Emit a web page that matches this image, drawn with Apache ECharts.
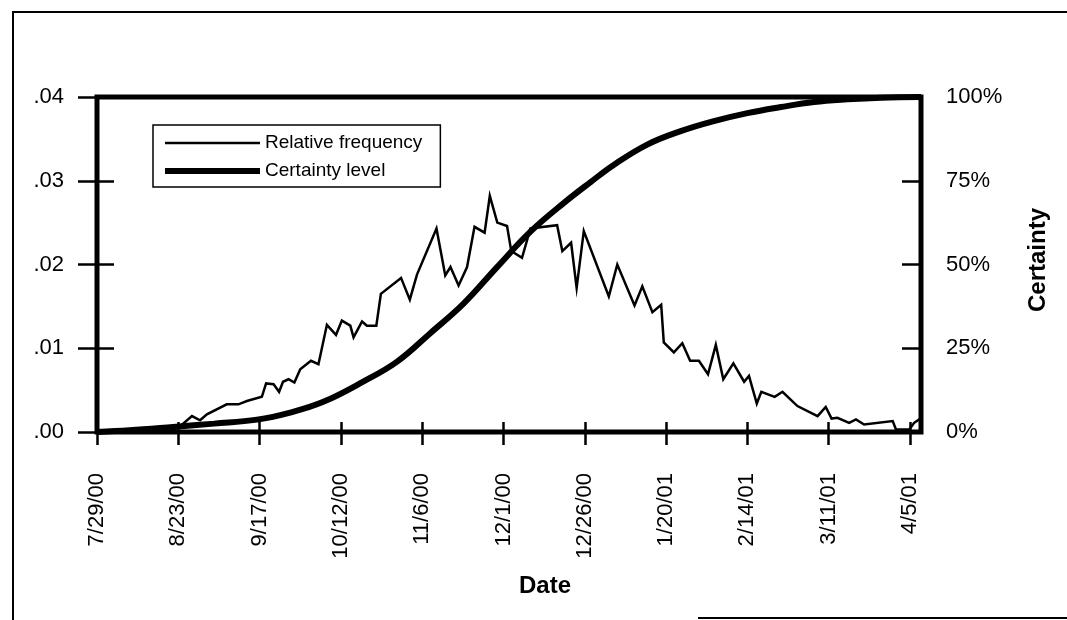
<!DOCTYPE html>
<html><head><meta charset="utf-8">
<script src="https://cdn.jsdelivr.net/npm/echarts@6/dist/echarts.min.js"></script>
<style>html,body{margin:0;padding:0;background:#fff}#c{width:1067px;height:620px}</style>
</head><body><div id="c"></div>
<script>
// x axis: days since 7/29/00
const xTickDays = [0, 25, 50, 75, 100, 125, 150, 175, 200, 225, 250];
const xTickLabels = ['7/29/00', '8/23/00', '9/17/00', '10/12/00', '11/6/00', '12/1/00', '12/26/00', '1/20/01', '2/14/01', '3/11/01', '4/5/01'];
const leftTickLabels = ['.00', '.01', '.02', '.03', '.04'];
const rightTickLabels = ['0%', '25%', '50%', '75%', '100%'];

const freqDays = [0, 22, 25.6, 29.2, 31.7, 33.8, 39.9, 43.5, 46.1, 50.7, 52.0, 54.3, 56.0, 57.2, 58.9, 60.7, 62.5, 65.8, 68.1, 70.7, 73.5, 75.3, 77.9, 78.9, 81.5, 83.0, 85.9, 87.3, 93.5, 96.2, 98.4, 104.4, 107.1, 108.7, 111.2, 113.8, 116.1, 119.2, 120.8, 123.1, 126.1, 127.4, 130.7, 133.3, 141.5, 143.1, 145.8, 147.5, 149.7, 157.4, 160.0, 165.3, 167.7, 170.8, 173.5, 174.3, 177.4, 180.0, 182.4, 185.1, 187.9, 190.3, 192.6, 195.7, 199.0, 200.5, 202.9, 204.3, 208.4, 210.8, 215.4, 221.6, 224.1, 225.9, 227.7, 231.3, 233.4, 235.9, 244.7, 245.7, 249.8, 251.3, 253.2];
const freqValues = [0, 0.0001, 0.0007, 0.0019, 0.0014, 0.0021, 0.0033, 0.0033, 0.0037, 0.0042, 0.0058, 0.0057, 0.0048, 0.0060, 0.0063, 0.0059, 0.0075, 0.0085, 0.0081, 0.0128, 0.0116, 0.0133, 0.0127, 0.0113, 0.0132, 0.0127, 0.0127, 0.0165, 0.0184, 0.0158, 0.0188, 0.0243, 0.0187, 0.0197, 0.0175, 0.0197, 0.0245, 0.0238, 0.0282, 0.0250, 0.0246, 0.0216, 0.0208, 0.0243, 0.0247, 0.0216, 0.0226, 0.0172, 0.0240, 0.0162, 0.0200, 0.0151, 0.0174, 0.0143, 0.0152, 0.0107, 0.0095, 0.0106, 0.0085, 0.0085, 0.0069, 0.0104, 0.0063, 0.0082, 0.0060, 0.0067, 0.0034, 0.0048, 0.0042, 0.0048, 0.0031, 0.0019, 0.0030, 0.0016, 0.0017, 0.0011, 0.0015, 0.0009, 0.0013, 0.0003, 0.0003, 0.0011, 0.0016];

const certDays = [0, 10, 23.4, 36, 49.2, 59.4, 69.6, 82.0, 92.3, 102.5, 112.8, 123.1, 133.3, 143.6, 151.8, 159.0, 169.2, 179.5, 189.7, 200.0, 210.3, 220.5, 230.8, 241.1, 253.4];
const certValues = [0, 0.5, 1.5, 2.5, 3.7, 5.8, 9.0, 15.1, 21.0, 29.5, 38.4, 49.3, 59.8, 68.4, 74.6, 79.8, 85.8, 89.8, 92.8, 95.2, 97.0, 98.5, 99.3, 99.8, 100];

const FONT = '"Liberation Sans", Arial, Helvetica, sans-serif';
const X_MAX = 253.4;

function labelFor(v) {
  const i = xTickDays.findIndex(d => Math.abs(d - v) < 1e-6);
  return i >= 0 ? xTickLabels[i] : '';
}

const chart = echarts.init(document.getElementById('c'), null, {renderer: 'canvas'});
const tickStyle = {color: '#000', width: 2.5};
chart.setOption({
  backgroundColor: '#fff',
  animation: false,
  grid: {left: 97, right: 146, top: 97, bottom: 188, show: true, borderColor: '#000', borderWidth: 5, backgroundColor: 'transparent'},
  legend: {
    orient: 'vertical', left: 153, top: 125,
    padding: [8, 18, 6, 9], itemGap: 8, itemWidth: 95, itemHeight: 20,
    borderColor: '#000', borderWidth: 1.5, backgroundColor: '#fff',
    textStyle: {fontFamily: FONT, fontSize: 19, color: '#000', lineHeight: 20},
    data: [
      {name: 'Relative frequency', itemStyle: {opacity: 0}, lineStyle: {width: 2.5, color: '#000'}},
      {name: 'Certainty level', itemStyle: {opacity: 0}, lineStyle: {width: 6, color: '#000'}}
    ]
  },
  xAxis: [
    {type: 'value', min: 0, max: X_MAX, position: 'bottom',
     axisLine: {show: false}, splitLine: {show: false},
     axisTick: {show: true, customValues: xTickDays, length: 13, lineStyle: tickStyle},
     axisLabel: {customValues: xTickDays, rotate: 90, margin: 41, color: '#000', fontFamily: FONT, fontSize: 22, formatter: labelFor}},
    {type: 'value', min: 0, max: X_MAX, position: 'bottom',
     axisLine: {show: false}, splitLine: {show: false},
     axisTick: {show: true, inside: true, customValues: xTickDays, length: 10, lineStyle: tickStyle},
     axisLabel: {show: false}}
  ],
  yAxis: [
    {type: 'value', min: 0, max: 0.04, interval: 0.01, position: 'left',
     axisLine: {show: false}, splitLine: {show: false},
     axisTick: {show: true, length: 19, lineStyle: tickStyle},
     axisLabel: {margin: 33, color: '#000', fontFamily: FONT, fontSize: 22, formatter: v => leftTickLabels[Math.round(v / 0.01)]}},
    {type: 'value', min: 0, max: 100, interval: 25, position: 'right',
     axisLine: {show: false}, splitLine: {show: false},
     axisTick: {show: true, length: 17, lineStyle: tickStyle},
     axisLabel: {margin: 25, color: '#000', fontFamily: FONT, fontSize: 22, formatter: v => rightTickLabels[Math.round(v / 25)]}},
    {type: 'value', min: 0, max: 0.04, interval: 0.01, position: 'left',
     axisLine: {show: false}, splitLine: {show: false},
     axisTick: {show: true, inside: true, length: 16, lineStyle: tickStyle}, axisLabel: {show: false}},
    {type: 'value', min: 0, max: 100, interval: 25, position: 'right',
     axisLine: {show: false}, splitLine: {show: false},
     axisTick: {show: true, inside: true, length: 19, lineStyle: tickStyle}, axisLabel: {show: false}}
  ],
  series: [
    {name: 'Relative frequency', type: 'line', xAxisIndex: 0, yAxisIndex: 0, symbol: 'none',
     lineStyle: {color: '#000', width: 2.5, join: 'miter'}, itemStyle: {color: '#000'},
     data: freqDays.map((d, i) => [d, freqValues[i]]), z: 4},
    {name: 'Certainty level', type: 'line', xAxisIndex: 0, yAxisIndex: 1, symbol: 'none',
     smooth: 0.4,
     lineStyle: {color: '#000', width: 6}, itemStyle: {color: '#000'},
     data: certDays.map((d, i) => [d, certValues[i]]), z: 3}
  ],
  graphic: [
    {type: 'line', shape: {x1: 13, y1: 12, x2: 13, y2: 620}, style: {stroke: '#000', lineWidth: 2}},
    {type: 'line', shape: {x1: 12, y1: 12, x2: 1067, y2: 12}, style: {stroke: '#000', lineWidth: 2}},
    {type: 'line', shape: {x1: 698, y1: 618, x2: 1067, y2: 618}, style: {stroke: '#000', lineWidth: 2}},
    {type: 'text', left: 519, top: 574, style: {text: 'Date', font: 'bold 24px ' + FONT, fill: '#000'}},
    {type: 'text', x: 1038, y: 260, rotation: Math.PI / 2,
     style: {text: 'Certainty', font: 'bold 24px ' + FONT, fill: '#000', align: 'center', verticalAlign: 'middle'}}
  ]
});
</script>
</body></html>
